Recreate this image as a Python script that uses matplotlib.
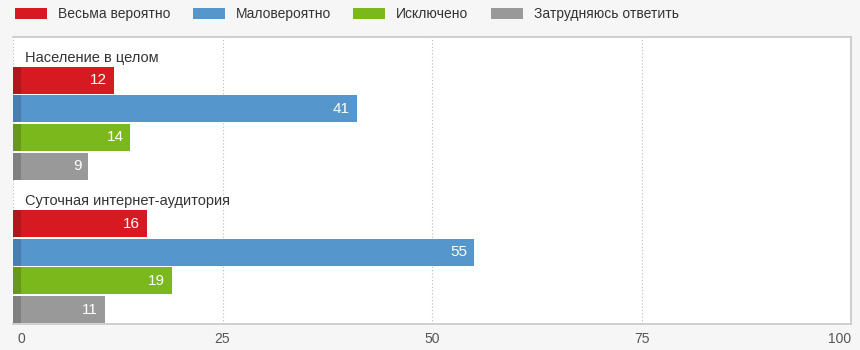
import numpy as np
import matplotlib.pyplot as plt
import matplotlib.transforms as mtransforms
from matplotlib.patches import Patch

plt.rcParams['font.family'] = ['Liberation Sans', 'DejaVu Sans']

groups = ["Население в целом", "Суточная интернет-аудитория"]
series = ["Весьма вероятно", "Маловероятно", "Исключено", "Затрудняюсь ответить"]
values = [
    [12, 16],  # Весьма вероятно
    [41, 55],  # Маловероятно
    [14, 19],  # Исключено
    [9, 11],   # Затрудняюсь ответить
]
colors = ["#d71921", "#5596cc", "#7ab81b", "#999999"]
dark = ["#b0161c", "#4a7eae", "#66991a", "#808080"]
xticks = [0, 25, 50, 75, 100]

fig = plt.figure(figsize=(8.6, 3.5), dpi=100)
fig.patch.set_facecolor("#f6f6f6")
ax = fig.add_axes([13/860, 26/350, 838/860, 287/350])
ax.set_facecolor("white")

offsets = [-0.3, -0.1, 0.1, 0.3]
h = 0.188
stub = 8 / 8.38  # darker strip at the base of each bar

for i, s in enumerate(series):
    for g in range(len(groups)):
        y = g + offsets[i]
        v = values[i][g]
        ax.barh(y, v, height=h, color=colors[i], zorder=3)
        ax.barh(y, stub, height=h, color=dark[i], zorder=4)
        ax.annotate(str(v), (v, y), xytext=(-5, 0), textcoords="offset points",
                    ha="right", va="center", color="white", fontsize=11, zorder=5)

for g, name in enumerate(groups):
    ax.text(0.014, g - 0.455, name, transform=ax.get_yaxis_transform(),
            ha="left", va="center", fontsize=10.5, color="#333333")

ax.set_xlim(0, 100)
ax.set_ylim(1.4, -0.6)
ax.set_yticks([])
ax.set_xticks(xticks)
ax.set_xticklabels([str(t) for t in xticks])
ax.tick_params(axis="x", length=0, pad=6, labelsize=10, labelcolor="#555555")
lbls = ax.get_xticklabels()
lbls[0].set_ha("left")
lbls[0].set_transform(lbls[0].get_transform() +
                      mtransforms.ScaledTranslation(5/100, 0, fig.dpi_scale_trans))
lbls[-1].set_ha("right")
ax.grid(axis="x", color="#bbbbbb", linestyle=(0, (1, 2)), linewidth=0.8, zorder=0)
for side in ["top", "right", "bottom"]:
    ax.spines[side].set_color("#c8c8c8")
    ax.spines[side].set_linewidth(1.2)
ax.spines["left"].set_visible(False)

handles = [Patch(facecolor=c, edgecolor="none") for c in colors]
fig.legend(handles, series, loc="upper left", bbox_to_anchor=(0.003, 1.015), ncol=4,
           frameon=False, fontsize=10, handlelength=2.3, handleheight=0.8,
           handletextpad=0.8, columnspacing=1.6, labelcolor="#333333")

fig.savefig("out.png", dpi=100, facecolor=fig.get_facecolor())
